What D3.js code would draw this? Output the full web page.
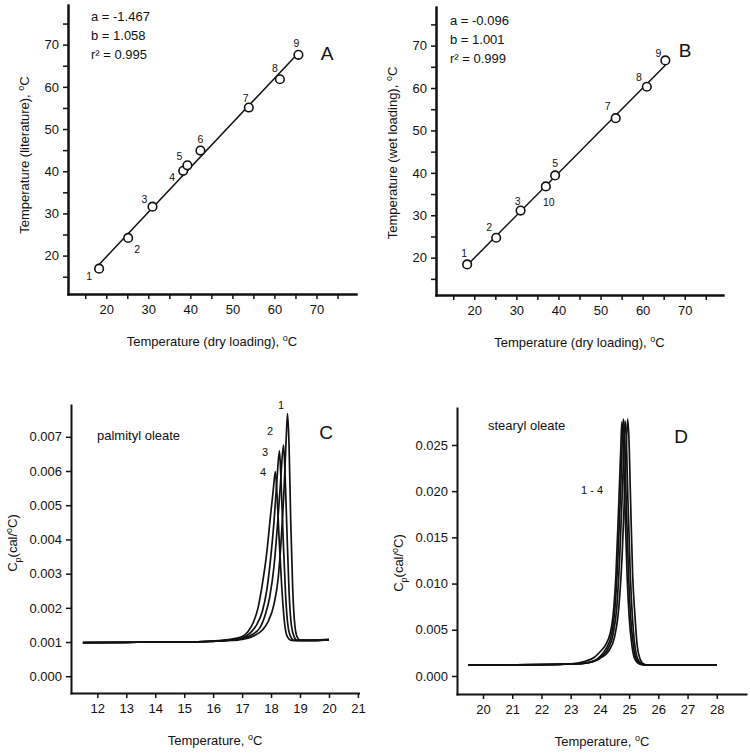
<!DOCTYPE html>
<html><head><meta charset="utf-8">
<script src="https://cdn.jsdelivr.net/npm/d3@7"></script>
<style>
body{margin:0;background:#fff;}
text{font-family:Arial,"Liberation Sans",sans-serif;fill:#111;}
</style></head>
<body>
<svg id="chart" width="750" height="755"></svg>
<script>
// ---------- Data ----------
// Panel A: dry loading vs literature
const aLabels = ["1","2","3","4","5","6","7","8","9"];
const aDry    = [18.3, 25.2, 31.0, 38.3, 39.3, 42.4, 53.9, 61.3, 65.7];
const aLit    = [16.9, 24.2, 31.6, 40.1, 41.4, 44.9, 55.1, 61.8, 67.6];
const aFit    = {a: -1.467, b: 1.058, r2: 0.995};
// Panel B: dry loading vs wet loading
const bLabels = ["1","2","3","10","5","7","8","9"];
const bDry    = [18.3, 25.2, 31.0, 37.0, 39.2, 53.6, 61.0, 65.4];
const bWet    = [18.4, 24.7, 31.1, 36.8, 39.4, 52.9, 60.3, 66.5];
const bFit    = {a: -0.096, b: 1.001, r2: 0.999};
const scatterMajorTicks = [20, 30, 40, 50, 60, 70];
const scatterMinorTicks = [15, 25, 35, 45, 55, 65, 75];

// Panel C: palmityl oleate DSC scans 1-4 [T, Cp]
const cScan1 = [[11.5,0.00098],[13,0.00099],[14,0.001],[15,0.001],[16,0.00102],[16.5,0.00104],[17,0.00108],[17.4,0.00118],[17.7,0.00135],[17.9,0.0016],[18.1,0.0021],[18.25,0.0029],[18.35,0.0040],[18.45,0.0055],[18.52,0.0069],[18.57,0.00768],[18.62,0.0068],[18.68,0.0045],[18.75,0.0025],[18.82,0.0015],[18.9,0.00115],[19.0,0.00106],[19.5,0.00106],[20.0,0.00108]];
const cScan2 = [[11.5,0.00098],[13,0.00099],[14,0.001],[15,0.001],[16,0.00102],[16.5,0.00105],[17,0.0011],[17.3,0.0012],[17.6,0.0014],[17.8,0.0018],[17.95,0.0023],[18.1,0.0032],[18.22,0.0044],[18.33,0.0057],[18.43,0.00676],[18.48,0.006],[18.55,0.0042],[18.62,0.0025],[18.7,0.0015],[18.8,0.00115],[18.9,0.00105],[19.5,0.00105],[20.0,0.00107]];
const cScan3 = [[11.5,0.00098],[13,0.00099],[14,0.001],[15,0.001],[16,0.00103],[16.5,0.00106],[17,0.00112],[17.3,0.00128],[17.5,0.0015],[17.7,0.0019],[17.85,0.0025],[17.98,0.0034],[18.1,0.0045],[18.2,0.0057],[18.29,0.00659],[18.34,0.0058],[18.42,0.0040],[18.5,0.0024],[18.58,0.0015],[18.68,0.00115],[18.8,0.00105],[19.5,0.00105],[20.0,0.00106]];
const cScan4 = [[11.5,0.00098],[13,0.00099],[14,0.001],[15,0.001],[16,0.00103],[16.5,0.00107],[17,0.00116],[17.2,0.0013],[17.4,0.0016],[17.55,0.002],[17.7,0.0027],[17.85,0.0036],[17.97,0.0046],[18.07,0.0054],[18.15,0.00598],[18.2,0.0054],[18.28,0.0040],[18.37,0.0026],[18.46,0.0016],[18.55,0.00118],[18.7,0.00105],[19.5,0.00104],[20.0,0.00106]];
const cXTicks = [12,13,14,15,16,17,18,19,20,21];
const cYTicks = [0,0.001,0.002,0.003,0.004,0.005,0.006,0.007];
const cScanLabels = ["1","2","3","4"];

// Panel D: stearyl oleate DSC scans 1-4 [T, Cp]
const dScan1 = [[19.5,0.00118],[21,0.0012],[22,0.00122],[23,0.0013],[23.5,0.0016],[23.8,0.002],[24.0,0.0026],[24.2,0.0034],[24.35,0.0046],[24.45,0.0065],[24.55,0.011],[24.65,0.019],[24.72,0.025],[24.75,0.0275],[24.79,0.026],[24.85,0.019],[24.93,0.011],[25.0,0.0065],[25.1,0.0032],[25.2,0.0018],[25.35,0.0013],[25.5,0.0012],[28.0,0.0012]];
const dScan2 = [[19.5,0.00118],[21,0.0012],[22,0.00122],[23,0.0013],[23.5,0.0014],[23.8,0.0016],[24.0,0.0021],[24.2,0.0029],[24.4,0.0045],[24.52,0.0075],[24.62,0.013],[24.72,0.021],[24.8,0.0278],[24.84,0.026],[24.9,0.019],[24.98,0.011],[25.05,0.0065],[25.15,0.0032],[25.25,0.0018],[25.4,0.0013],[25.55,0.0012],[28.0,0.0012]];
const dScan3 = [[19.5,0.00118],[21,0.0012],[22,0.00122],[23,0.0013],[23.5,0.0014],[24.0,0.002],[24.25,0.0028],[24.45,0.0045],[24.58,0.0075],[24.68,0.013],[24.78,0.021],[24.86,0.0276],[24.9,0.026],[24.96,0.019],[25.04,0.011],[25.11,0.0065],[25.2,0.0032],[25.3,0.0018],[25.45,0.0013],[25.6,0.0012],[28.0,0.0012]];
const dScan4 = [[19.5,0.00118],[21,0.0012],[22,0.00122],[23,0.0013],[23.5,0.0014],[24.0,0.0019],[24.3,0.0027],[24.5,0.0042],[24.65,0.0075],[24.76,0.013],[24.86,0.021],[24.95,0.0278],[24.99,0.026],[25.05,0.019],[25.12,0.011],[25.2,0.0065],[25.28,0.0032],[25.38,0.0018],[25.5,0.0013],[25.65,0.0012],[28.0,0.0012]];
const dXTicks = [20,21,22,23,24,25,26,27,28];
const dYTicks = [0,0.005,0.010,0.015,0.020,0.025];

// ---------- Drawing ----------
const svg = d3.select("#chart");
const FS = 13;

function axesFrame(g, x, y, xTicks, yTicks, yFmt, xMinor, yMinor){
  const xa = d3.axisBottom(x).tickValues(xTicks).tickSize(5).tickSizeOuter(0).tickPadding(6).tickFormat(d3.format("d"));
  const ya = d3.axisLeft(y).tickValues(yTicks).tickSize(5).tickSizeOuter(0).tickPadding(4).tickFormat(yFmt);
  g.append("g").attr("transform", `translate(0,${y.range()[0]})`).call(xa);
  g.append("g").attr("transform", `translate(${x.range()[0]},0)`).call(ya);
  if (xMinor) g.append("g").attr("transform", `translate(0,${y.range()[0]})`)
      .call(d3.axisBottom(x).tickValues(xMinor).tickSize(5).tickSizeOuter(0).tickFormat(""));
  if (yMinor) g.append("g").attr("transform", `translate(${x.range()[0]},0)`)
      .call(d3.axisLeft(y).tickValues(yMinor).tickSize(5).tickSizeOuter(0).tickFormat(""));
  g.selectAll(".domain").attr("stroke","#111").attr("stroke-width",2).attr("stroke-linecap","square");
  g.selectAll(".tick line").attr("stroke","#111").attr("stroke-width",1.5);
  g.selectAll(".tick text").attr("font-size",FS).attr("font-family","Arial, 'Liberation Sans', sans-serif").attr("fill","#111");
}

function xTitle(g, cx, cy, main){
  const t = g.append("text").attr("x",cx).attr("y",cy).attr("text-anchor","middle").attr("font-size",FS);
  t.append("tspan").text(main);
  t.append("tspan").attr("dy",-5).attr("font-size",9).text("o");
  t.append("tspan").attr("dy",5).text("C");
}
function yTitleTemp(g, cx, cy, main){
  const t = g.append("text").attr("transform",`translate(${cx},${cy}) rotate(-90)`).attr("text-anchor","middle").attr("font-size",FS);
  t.append("tspan").text(main);
  t.append("tspan").attr("dy",-5).attr("font-size",9).text("o");
  t.append("tspan").attr("dy",5).text("C");
}
function yTitleCp(g, cx, cy){
  const t = g.append("text").attr("transform",`translate(${cx},${cy}) rotate(-90)`).attr("text-anchor","middle").attr("font-size",FS);
  t.append("tspan").text("C");
  t.append("tspan").attr("dy",4).attr("font-size",9).text("p");
  t.append("tspan").attr("dy",-4).text("(cal/");
  t.append("tspan").attr("dy",-5).attr("font-size",9).text("o");
  t.append("tspan").attr("dy",5).text("C)");
}

function scatterPanel(opt){
  const g = svg.append("g");
  const x = d3.scaleLinear().domain(opt.xDom).range([opt.left, opt.right]);
  const y = d3.scaleLinear().domain(opt.yDom).range([opt.bottom, opt.top]);
  axesFrame(g, x, y, scatterMajorTicks, scatterMajorTicks, d3.format("d"), scatterMinorTicks, scatterMinorTicks);
  const x0 = d3.min(opt.xs), x1 = d3.max(opt.xs);
  g.append("line").attr("x1",x(x0)).attr("y1",y(opt.fit.a+opt.fit.b*x0))
    .attr("x2",x(x1)).attr("y2",y(opt.fit.a+opt.fit.b*x1))
    .attr("stroke","#111").attr("stroke-width",1.5);
  g.selectAll("circle.pt").data(opt.xs).enter().append("circle")
    .attr("cx",(d)=>x(d)).attr("cy",(d,i)=>y(opt.ys[i])).attr("r",4.3)
    .attr("fill","#fff").attr("stroke","#111").attr("stroke-width",1.6);
  g.selectAll("text.pl").data(opt.labels).enter().append("text")
    .attr("x",(d,i)=>x(opt.xs[i])+opt.lo[i][0]).attr("y",(d,i)=>y(opt.ys[i])+opt.lo[i][1])
    .attr("text-anchor","middle").attr("dominant-baseline","central").attr("font-size",10.5).text(d=>d);
  const tx = opt.left + opt.fitDx;
  g.append("text").attr("x",tx).attr("y",opt.fitY).attr("font-size",FS).text(`a = ${opt.fit.a.toFixed(3)}`);
  g.append("text").attr("x",tx).attr("y",opt.fitY+19).attr("font-size",FS).text(`b = ${opt.fit.b.toFixed(3)}`);
  g.append("text").attr("x",tx).attr("y",opt.fitY+38).attr("font-size",FS).text(`r² = ${opt.fit.r2.toFixed(3)}`);
  g.append("text").attr("x",opt.letter[0]).attr("y",opt.letter[1]).attr("font-size",19).attr("text-anchor","middle").text(opt.letterText);
  xTitle(g, (opt.left+opt.right)/2, opt.bottom+52, "Temperature (dry loading), ");
  yTitleTemp(g, opt.left-39, opt.yTitleY, opt.yTitle);
}

scatterPanel({
  left:68, right:356, top:5, bottom:294, xDom:[10.9,79.4], yDom:[10.9,79.4],
  xs:aDry, ys:aLit, labels:aLabels, fit:aFit,
  lo:[[-10,7],[9,11],[-8,-8],[-11,6],[-8,-9],[0,-12],[-3,-10],[-5,-11],[-2,-12]],
  fitDx:23, fitY:21, letter:[327,60], letterText:"A",
  yTitle:"Temperature (literature), ", yTitleY:155
});
scatterPanel({
  left:436, right:723, top:7, bottom:295, xDom:[10.9,79.1], yDom:[11.2,79.1],
  xs:bDry, ys:bWet, labels:bLabels, fit:bFit,
  lo:[[-3,-11],[-7,-11],[-3,-10],[3,16],[0,-12],[-8,-12],[-8,-10],[-7,-7]],
  fitDx:14, fitY:25, letter:[685,57], letterText:"B",
  yTitle:"Temperature (wet loading), ", yTitleY:153
});

function dscPanel(opt){
  const g = svg.append("g");
  const x = d3.scaleLinear().domain(opt.xDom).range([opt.left, opt.right]);
  const y = d3.scaleLinear().domain(opt.yDom).range([opt.bottom, opt.top]);
  axesFrame(g, x, y, opt.xTicks, opt.yTicks, d3.format(".3f"));
  const line = d3.line().x(d=>x(d[0])).y(d=>y(d[1])).curve(d3.curveMonotoneX);
  g.selectAll("path.scan").data(opt.scans).enter().append("path")
    .attr("d",line).attr("fill","none").attr("stroke","#111").attr("stroke-width",1.7);
  g.append("text").attr("x",opt.name[0]).attr("y",opt.name[1]).attr("font-size",FS).text(opt.nameText);
  g.append("text").attr("x",opt.letter[0]).attr("y",opt.letter[1]).attr("font-size",19).attr("text-anchor","middle").text(opt.letterText);
  opt.extraLabels.forEach(l=>{
    g.append("text").attr("x",l[0]).attr("y",l[1]).attr("font-size",11).attr("text-anchor","middle").text(l[2]);
  });
  xTitle(g, opt.xTitleX, opt.bottom+52, "Temperature, ");
  yTitleCp(g, opt.left-54, opt.yTitleY);
}

dscPanel({
  left:71, right:358.5, top:405, bottom:693, xDom:[11.09,21.02], yDom:[-0.00049,0.00793],
  xTicks:cXTicks, yTicks:cYTicks, scans:[cScan1,cScan2,cScan3,cScan4],
  name:[97,440], nameText:"palmityl oleate", letter:[326,439], letterText:"C",
  extraLabels:[[281,409,cScanLabels[0]],[270,435,cScanLabels[1]],[265,456,cScanLabels[2]],[263,476,cScanLabels[3]]],
  xTitleX:215, yTitleY:543
});
dscPanel({
  left:457, right:746, top:408, bottom:694, xDom:[19.11,29.0], yDom:[-0.00195,0.029],
  xTicks:dXTicks, yTicks:dYTicks, scans:[dScan1,dScan2,dScan3,dScan4],
  name:[488,430], nameText:"stearyl oleate", letter:[681,443], letterText:"D",
  extraLabels:[[592,494,"1 - 4"]],
  xTitleX:602, yTitleY:563
});
</script>
</body></html>
